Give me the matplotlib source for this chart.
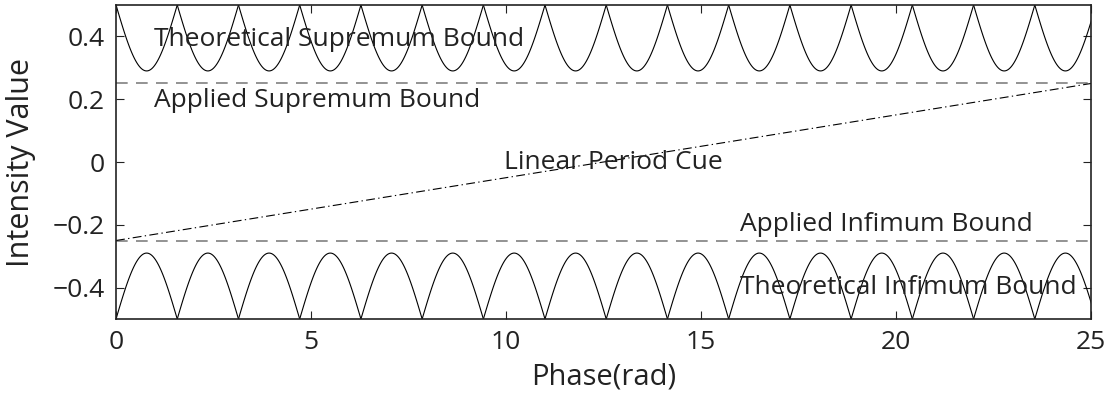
import numpy as np
import matplotlib
matplotlib.use('Agg')
import matplotlib.pyplot as plt

plt.rcParams['font.family'] = ['Open Sans', 'DejaVu Sans']

# cusp positions of the bound curves (rad)
arch_edges = [0, 1.57, 3.14, 4.71, 6.28, 7.85, 9.42, 11.0, 12.57,
              14.14, 15.71, 17.28, 18.85, 20.42, 21.99, 23.56, 25.13]
sup_cusp, sup_floor = 0.5, 0.29      # theoretical supremum: cusps / arch bottoms
inf_cusp, inf_peak = -0.5, -0.29     # theoretical infimum: cusps / arch tops
applied_sup = 0.25
applied_inf = -0.25
cue_phase = [0, 25]
cue_value = [-0.25, 0.25]

xticks_v = [0, 5, 10, 15, 20, 25]
yticks_v = [-0.4, -0.2, 0, 0.2, 0.4]
yticks_l = ['\u22120.4', '\u22120.2', '0', '0.2', '0.4']

fig = plt.figure(figsize=(11.06, 3.96), dpi=100)
ax = fig.add_axes([0.1049, 0.1944, 0.8815, 0.793])

# each arch is half a sine lobe between two cusps
for a, b in zip(arch_edges[:-1], arch_edges[1:]):
    x = np.linspace(a, b, 60)
    lobe = np.sin(np.pi * (x - a) / (b - a))
    ax.plot(x, sup_cusp - (sup_cusp - sup_floor) * lobe, color='black', lw=0.8)
    ax.plot(x, inf_cusp + (inf_peak - inf_cusp) * lobe, color='black', lw=0.8)

ax.axhline(applied_sup, color='#808080', lw=1.2, linestyle=(0, (7, 5)))
ax.axhline(applied_inf, color='#808080', lw=1.2, linestyle=(0, (7, 5)))
ax.plot(cue_phase, cue_value, color='black', lw=0.8, linestyle=(0, (8, 3, 1.2, 3)))

fs = 19
tc = '#222222'
ax.text(0.98, 0.39, 'Theoretical Supremum Bound', fontsize=fs, va='center', color=tc)
ax.text(0.98, 0.195, 'Applied Supremum Bound', fontsize=fs, va='center', color=tc)
ax.text(9.95, 0.0, 'Linear Period Cue', fontsize=fs, va='center', color=tc)
ax.text(16.0, -0.2, 'Applied Infimum Bound', fontsize=fs, va='center', color=tc)
ax.text(16.0, -0.4, 'Theoretical Infimum Bound', fontsize=fs, va='center', color=tc)

ax.set_xlim(0, 25)
ax.set_ylim(-0.5, 0.5)
ax.set_xticks(xticks_v)
ax.set_xticklabels([str(v) for v in xticks_v])
ax.set_yticks(yticks_v)
ax.set_yticklabels(yticks_l)
ax.tick_params(direction='in', top=True, right=True, length=6, width=0.8,
               labelsize=19, colors=tc, pad=8)
for s in ax.spines.values():
    s.set_linewidth(1.2)
    s.set_color(tc)

ax.set_xlabel('Phase(rad)', fontsize=21, color=tc, labelpad=5)
ax.set_ylabel('Intensity Value', fontsize=22, color=tc, labelpad=12)

fig.savefig('out.png', dpi=100)
